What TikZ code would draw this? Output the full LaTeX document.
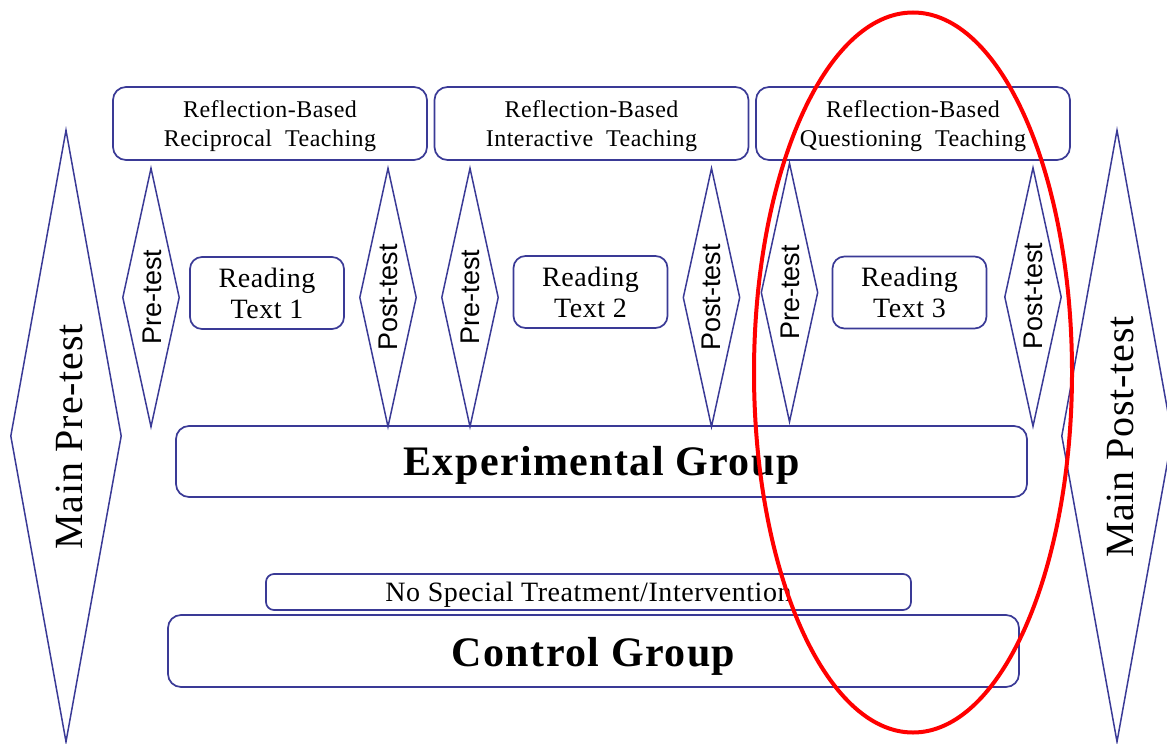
\documentclass[tikz,border=0pt]{standalone}
\usepackage{fontspec}
\setmainfont{Liberation Serif}[LetterSpace=2]
\newfontfamily\groupfont{Liberation Serif}[LetterSpace=3.3]
\newfontfamily\testfont{Liberation Sans}
\usetikzlibrary{shapes.geometric}

\definecolor{frameblue}{RGB}{58,58,150}
\definecolor{ringred}{RGB}{255,0,0}

\begin{document}
\begin{tikzpicture}[x=1pt,y=-1pt,
  framebox/.style={draw=frameblue, line width=1.7pt, rounded corners=13pt,
    inner sep=0pt, align=center},
  teachbox/.style={framebox, minimum width=314, minimum height=73,
    text depth=-2pt, font=\fontsize{24}{29}\selectfont},
  readbox/.style={framebox, rounded corners=12pt, minimum width=154, minimum height=72,
    font=\fontsize{28}{31}\selectfont},
  groupbox/.style={framebox, minimum width=851, minimum height=71, text depth=0pt,
    font=\groupfont\bfseries\fontsize{42}{48}\selectfont},
  testdiam/.style={diamond, draw=frameblue, line width=1.5pt, inner sep=0pt,
    minimum width=57, minimum height=259},
  testlabel/.style={rotate=90, inner sep=0pt, font=\testfont\fontsize{27}{30}\selectfont},
  maindiam/.style={diamond, draw=frameblue, line width=1.5pt, inner sep=0pt,
    minimum width=111, minimum height=612},
  mainlabel/.style={rotate=90, inner sep=0pt, font=\fontsize{40}{46}\selectfont}
]
\useasboundingbox (0,0) rectangle (1167,744);
\clip (0,0) rectangle (1167,744);

% main tests at both ends
\node[maindiam] (mainpre) at (66,436) {};
\node[mainlabel] (mainprelbl) at (69,437) {Main Pre-test};
\node[maindiam] (mainpost) at (1117,436) {};
\node[mainlabel] (mainpostlbl) at (1120,437) {Main Post-test};

% teaching approaches
\node[teachbox] (teach1) at (270,123.5) {Reflection-Based\\Reciprocal~ Teaching};
\node[teachbox] (teach2) at (591.5,123.5) {Reflection-Based\\Interactive~ Teaching};
\node[teachbox] (teach3) at (913,123.5) {Reflection-Based\\Questioning~ Teaching};

% pre/post tests around each reading text
\node[testdiam] (pre1) at (151,297.5) {};
\node[testlabel] (pre1lbl) at (152,297) {Pre-test};
\node[testdiam] (post1) at (388,297.5) {};
\node[testlabel] (post1lbl) at (388,297.5) {Post-test};
\node[testdiam] (pre2) at (470,297.5) {};
\node[testlabel] (pre2lbl) at (470,297) {Pre-test};
\node[testdiam] (post2) at (711.5,297.5) {};
\node[testlabel] (post2lbl) at (711.5,297.5) {Post-test};
\node[testdiam] (pre3) at (789.5,292.5) {};
\node[testlabel] (pre3lbl) at (790,292.5) {Pre-test};
\node[testdiam] (post3) at (1033,297) {};
\node[testlabel] (post3lbl) at (1033,296) {Post-test};

% reading texts
\node[readbox] (read1) at (267,293) {Reading\\Text 1};
\node[readbox] (read2) at (590.5,292) {Reading\\Text 2};
\node[readbox] (read3) at (909.5,292.5) {Reading\\Text 3};

% groups
\node[groupbox, text height=27pt] (expgroup) at (601.5,461.5) {Experimental Group};
\node[framebox, rounded corners=8pt, minimum width=645, minimum height=36,
  text depth=0pt, font=\fontsize{28}{30}\selectfont] (notreat) at (588.5,592) {No Special Treatment/Intervention};
\node[groupbox, minimum height=72, text height=30pt] (ctrlgroup) at (593.5,651) {Control Group};

% highlight around the third cycle
\draw[ringred, line width=4pt] (913,372.5) ellipse [x radius=159, y radius=360];
\end{tikzpicture}
\end{document}
